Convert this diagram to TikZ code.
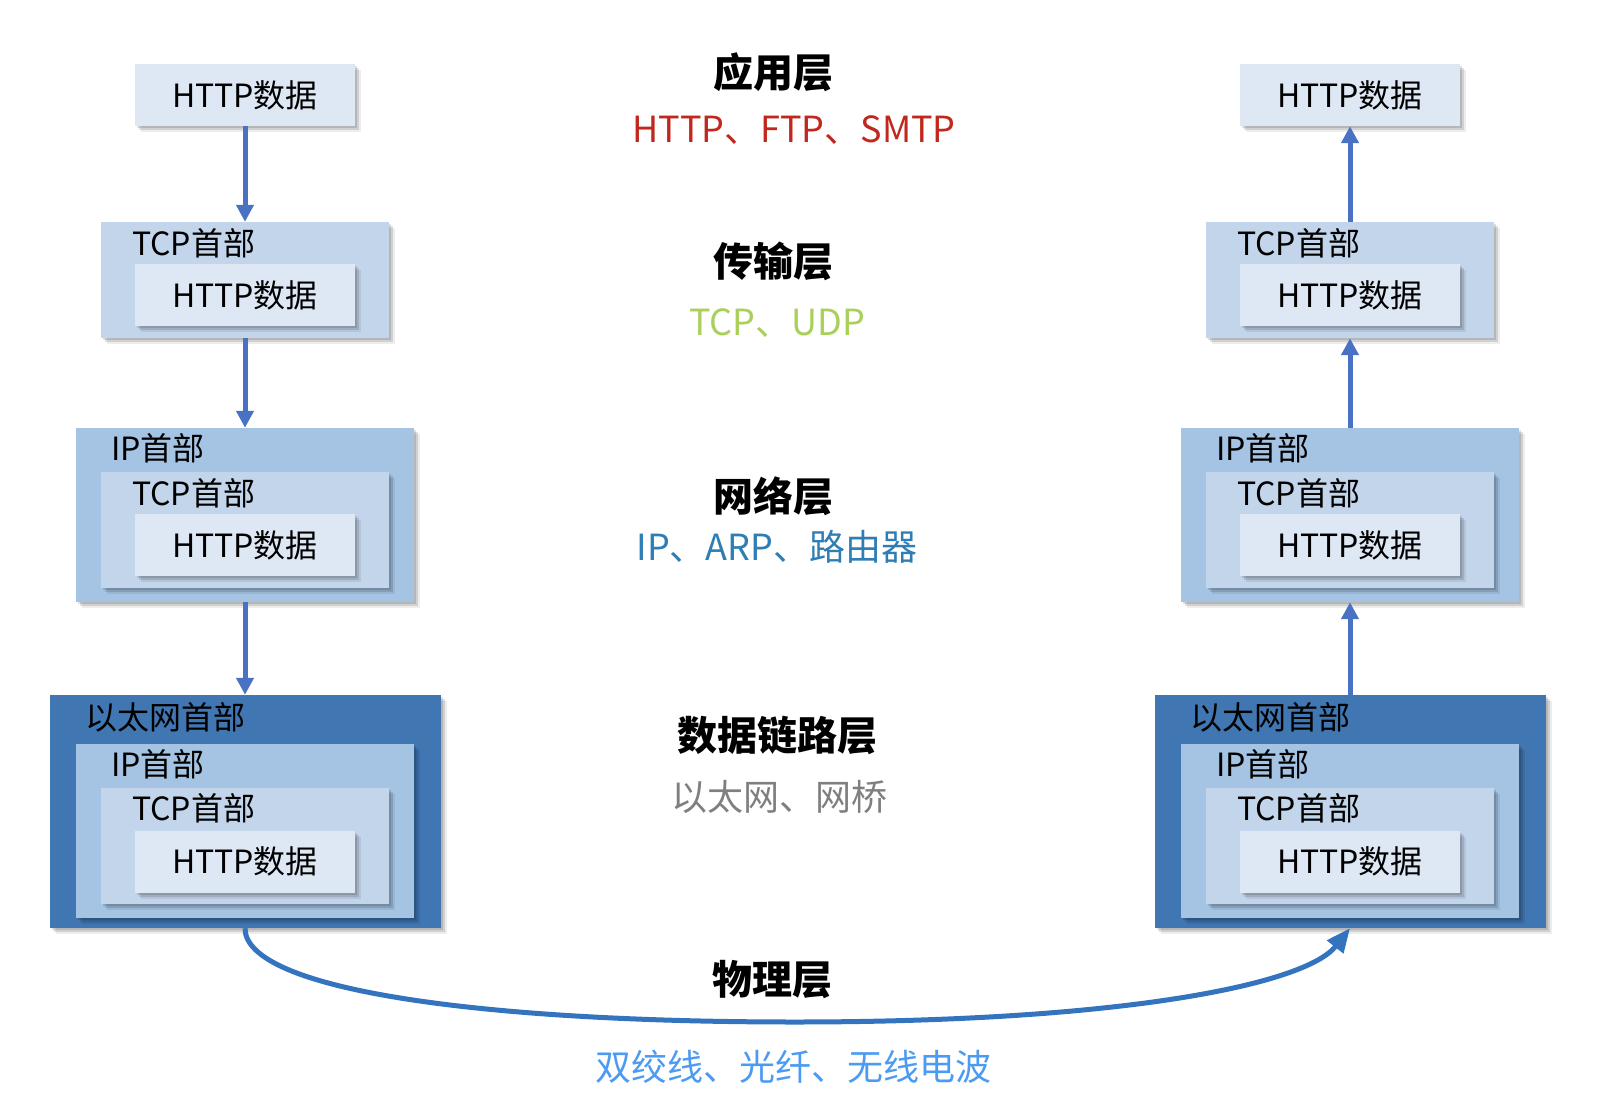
\documentclass[tikz,border=0pt]{standalone}
\usepackage{fontspec}
\setmainfont{Noto Sans CJK SC}
\usetikzlibrary{arrows.meta,shadows}
\definecolor{cHttp}{RGB}{222,232,244}
\definecolor{cTcp}{RGB}{194,213,235}
\definecolor{cIp}{RGB}{165,195,227}
\definecolor{cEth}{RGB}{64,118,178}
\definecolor{cArrow}{RGB}{74,114,196}
\definecolor{cCurve}{RGB}{52,116,190}
\definecolor{cRed}{RGB}{193,39,29}
\definecolor{cGreen}{RGB}{169,208,91}
\definecolor{cBlue}{RGB}{46,125,181}
\definecolor{cGray}{RGB}{127,127,127}
\definecolor{cLight}{RGB}{76,155,242}
\begin{document}
\begin{tikzpicture}[x=1pt,y=-1pt,
  box/.style={draw=none, inner sep=0pt,
    drop shadow={shadow xshift=2pt, shadow yshift=-2pt, opacity=0.12, fill=black},
    drop shadow={shadow xshift=4pt, shadow yshift=-4pt, opacity=0.12, fill=black},
    drop shadow={shadow xshift=6pt, shadow yshift=-6pt, opacity=0.07, fill=black}},
  httpbox/.style={box, fill=cHttp, minimum width=220pt, minimum height=62pt, font=\fontsize{32}{32}\selectfont},
  tcpbox/.style={box, fill=cTcp, minimum width=288pt, minimum height=116pt},
  ipbox/.style={box, fill=cIp, minimum width=338pt, minimum height=174pt},
  ethbox/.style={box, fill=cEth, minimum width=391pt, minimum height=233pt},
  hdr/.style={anchor=west, inner sep=0pt, font=\fontsize{32}{32}\selectfont},
  arr/.style={draw=cArrow, line width=5pt, -{Triangle[length=17pt,width=17pt]}},
  curve/.style={draw=cCurve, line width=5pt, -{Triangle[length=24pt,width=20pt]}},
  title/.style={font=\fontsize{40}{40}\selectfont\bfseries, inner sep=0pt},
  proto/.style={font=\fontsize{36}{36}\selectfont, inner sep=0pt}
]
\useasboundingbox (0,0) rectangle (1598,1094);
\fill[white] (0,0) rectangle (1598,1094);

% ---------- left column ----------
\node[httpbox] (h1) at (245,95) {HTTP数据};

\node[tcpbox] (t2) at (245,280) {};
\node[hdr] (t2l) at ([xshift=31pt,yshift=-21pt]t2.north west) {TCP首部};
\node[httpbox] (h2) at (245,295) {HTTP数据};

\node[ipbox] (i3) at (245,515) {};
\node[hdr] (i3l) at ([xshift=35pt,yshift=-20pt]i3.north west) {IP首部};
\node[tcpbox] (t3) at (245,530) {};
\node[hdr] (t3l) at ([xshift=31pt,yshift=-21pt]t3.north west) {TCP首部};
\node[httpbox] (h3) at (245,545) {HTTP数据};

\node[ethbox] (e4) at (245,811.5) {};
\node[hdr] (e4l) at ([xshift=36pt,yshift=-23pt]e4.north west) {以太网首部};
\node[ipbox] (i4) at (245,830.5) {};
\node[hdr] (i4l) at ([xshift=35pt,yshift=-21pt]i4.north west) {IP首部};
\node[tcpbox] (t4) at (245,846) {};
\node[hdr] (t4l) at ([xshift=31pt,yshift=-20pt]t4.north west) {TCP首部};
\node[httpbox] (h4) at (245,861.5) {HTTP数据};

% ---------- right column ----------
\node[httpbox] (h1r) at (1350,95) {HTTP数据};

\node[tcpbox] (t2r) at (1350,280) {};
\node[hdr] (t2rl) at ([xshift=31pt,yshift=-21pt]t2r.north west) {TCP首部};
\node[httpbox] (h2r) at (1350,295) {HTTP数据};

\node[ipbox] (i3r) at (1350,515) {};
\node[hdr] (i3rl) at ([xshift=35pt,yshift=-20pt]i3r.north west) {IP首部};
\node[tcpbox] (t3r) at (1350,530) {};
\node[hdr] (t3rl) at ([xshift=31pt,yshift=-21pt]t3r.north west) {TCP首部};
\node[httpbox] (h3r) at (1350,545) {HTTP数据};

\node[ethbox] (e4r) at (1350,811.5) {};
\node[hdr] (e4rl) at ([xshift=36pt,yshift=-23pt]e4r.north west) {以太网首部};
\node[ipbox] (i4r) at (1350,830.5) {};
\node[hdr] (i4rl) at ([xshift=35pt,yshift=-21pt]i4r.north west) {IP首部};
\node[tcpbox] (t4r) at (1350,846) {};
\node[hdr] (t4rl) at ([xshift=31pt,yshift=-20pt]t4r.north west) {TCP首部};
\node[httpbox] (h4r) at (1350,861.5) {HTTP数据};

% ---------- arrows ----------
\draw[arr] (h1.south) -- (t2.north);
\draw[arr] (t2.south) -- (i3.north);
\draw[arr] (i3.south) -- (e4.north);
\draw[arr] (t2r.north) -- (h1r.south);
\draw[arr] (i3r.north) -- (t2r.south);
\draw[arr] (e4r.north) -- (i3r.south);
\draw[curve] (e4.south) .. controls (245,990) and (480,1022) .. (795,1022)
  .. controls (1120,1022) and (1305,985) .. (e4r.south);

% ---------- layer labels ----------
\node[title] (L1) at (773,72) {应用层};
\node[proto, text=cRed] (P1) at (794,130) {HTTP、FTP、SMTP};
\node[title] (L2) at (773,261) {传输层};
\node[proto, text=cGreen] (P2) at (777,323) {TCP、UDP};
\node[title] (L3) at (773,496) {网络层};
\node[proto, text=cBlue] (P3) at (777,547) {IP、ARP、路由器};
\node[title] (L4) at (777,735) {数据链路层};
\node[proto, text=cGray] (P4) at (779,797) {以太网、网桥};
\node[title] (L5) at (772,980) {物理层};
\node[proto, text=cLight, font=\fontsize{36}{36}\selectfont] (P5) at (793,1067) {双绞线、光纤、无线电波};
\end{tikzpicture}
\end{document}
